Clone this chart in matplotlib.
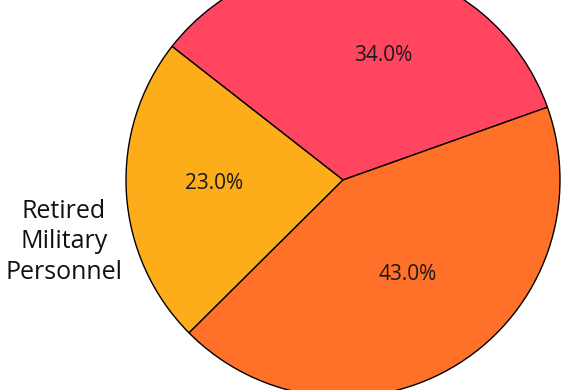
import matplotlib.pyplot as plt

plt.rcParams['font.family'] = ['Open Sans', 'DejaVu Sans']

# slice data, counterclockwise from the start angle
labels = ['', 'Retired\nMilitary\nPersonnel', '']
shares = [34.0, 23.0, 43.0]
colors = ['#FF4560', '#FDAC1A', '#FF7028']

# where the reference puts the percentage texts (pie radius = 1)
pct_pos = [(0.187, 0.574), (-0.592, -0.016), (0.297, -0.435)]

fig = plt.figure(figsize=(5.75, 3.9), dpi=100)
ax = fig.add_axes([0, 0, 1, 1])

wedges, texts, autotexts = ax.pie(
    shares, labels=labels, colors=colors, startangle=19.6,
    autopct='%1.1f%%', pctdistance=0.6, labeldistance=1.05,
    wedgeprops=dict(edgecolor='black', linewidth=1.0),
    textprops=dict(fontsize=18, color='#111111'),
)

# pie is centred at pixel (343, 180) with a radius of 217 px
r_px = 217.0
ax.set_aspect('auto')
ax.set_xlim(-343 / r_px, (575 - 343) / r_px)
ax.set_ylim(-(390 - 180) / r_px, 180 / r_px)
ax.axis('off')

for t, p in zip(autotexts, pct_pos):
    t.set_fontsize(15)
    t.set_color('#1a1a1a')
    t.set_position(p)

# outer label sits a bit lower than the slice middle
lab = texts[1]
lab.set_position((-1.286, -0.285))
lab.set_ha('center')
lab.set_va('center')
lab.set_multialignment('center')
lab.set_linespacing(1.3)

fig.savefig('out.png', dpi=100)
